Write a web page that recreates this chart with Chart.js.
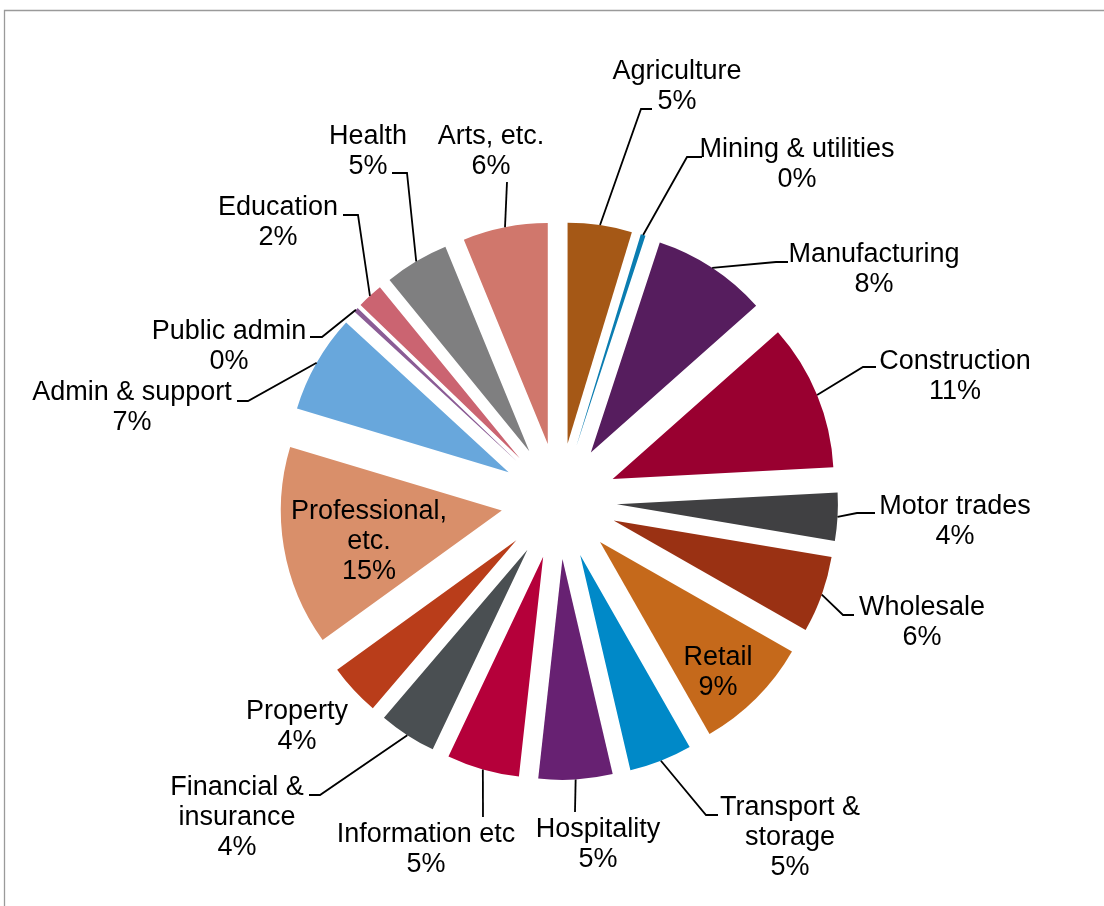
<!DOCTYPE html>
<html>
<head>
<meta charset="utf-8">
<script src="https://cdn.jsdelivr.net/npm/chart.js@4/dist/chart.umd.min.js"></script>
<style>
  html, body { margin: 0; padding: 0; background: #fff; overflow: hidden; }
  #wrap { position: relative; width: 1104px; height: 906px; }
</style>
</head>
<body>
<div id="wrap"><canvas id="sectors"></canvas></div>
<script>
// share of businesses by sector, %
const categories = [
  'Agriculture',
  'Mining & utilities',
  'Manufacturing',
  'Construction',
  'Motor trades',
  'Wholesale',
  'Retail',
  ['Transport &', 'storage'],
  'Hospitality',
  'Information etc',
  ['Financial &', 'insurance'],
  'Property',
  ['Professional,', 'etc.'],
  'Admin & support',
  'Public admin',
  'Education',
  'Health',
  'Arts, etc.',
];
const values = [
  4.7, 0.35, 8.4, 10.7, 3.5, 5.6, 8.5, 4.6, 5.4, 5.3, 4.2, 3.8, 14.6, 7.2,
  0.35, 1.9, 4.7, 6.2,
];
const colors = [
  '#A55816', '#0B7DB1', '#561D5E', '#990030', '#404042', '#9A3113',
  '#C5691B', '#0089C8', '#672172', '#B5003A', '#4A4F52', '#B93D1A',
  '#D98F6A', '#68A7DC', '#8B5C95', '#CB6471', '#7F7F80', '#D0776C',
];

// label placement: centre of first text line
const labelPos = [
  [677, 72], [797, 150], [874, 255], [955, 362], [955, 507], [922, 608],
  [718, 658], [790, 808], [598, 830], [426, 835], [237, 788], [297, 712],
  [369, 512], [132, 393], [229, 332], [278, 208], [368, 137], [491, 137],
];
// leader lines: elbow x, elbow y, end x (null = no leader)
const leaders = [
  [641, 109, 652], [687, 157, 702], [776, 262, 788], [863, 367, 876],
  [857, 513, 875], [843, 615, 854], null, [706, 815, 718],
  [575, 812, 575], [483, 817, 483], [320, 795, 309], null,
  null, [248, 401, 237], [322, 337, 310], [358, 215, 343],
  [407, 173, 392], [507, 182, 507],
];

const explode = 58;
const lineHeight = 30;

const explodedSlices = {
  id: 'explodedSlices',
  beforeDatasetDraw(chart, args) {
    const ctx = chart.ctx;
    args.meta.data.forEach((arc) => {
      const mid = (arc.startAngle + arc.endAngle) / 2;
      ctx.save();
      ctx.translate(Math.cos(mid) * explode, Math.sin(mid) * explode);
      arc.draw(ctx);
      ctx.restore();
    });
    return false;
  },
};

const frameAndLabels = {
  id: 'frameAndLabels',
  beforeDraw(chart) {
    const ctx = chart.ctx;
    ctx.save();
    ctx.strokeStyle = '#9a9a9a';
    ctx.lineWidth = 1.3;
    ctx.beginPath();
    ctx.moveTo(4.5, 906);
    ctx.lineTo(4.5, 10.5);
    ctx.lineTo(1104, 10.5);
    ctx.stroke();
    ctx.restore();
  },
  afterDraw(chart) {
    const ctx = chart.ctx;
    const meta = chart.getDatasetMeta(0);
    const total = values.reduce((a, b) => a + b, 0);
    ctx.save();
    ctx.font = '27px "Liberation Sans", Arial, sans-serif';
    ctx.textAlign = 'center';
    ctx.textBaseline = 'middle';
    ctx.fillStyle = '#000';
    ctx.strokeStyle = '#000';
    ctx.lineWidth = 1.8;
    meta.data.forEach((arc, i) => {
      const lines = [].concat(categories[i], Math.round((values[i] / total) * 100) + '%');
      const [lx, ly] = labelPos[i];
      lines.forEach((t, k) => ctx.fillText(t, lx, ly + k * lineHeight));

      const lead = leaders[i];
      if (!lead) return;
      const mid = (arc.startAngle + arc.endAngle) / 2;
      const dist = explode + arc.outerRadius;
      const sx = arc.x + Math.cos(mid) * dist;
      const sy = arc.y + Math.sin(mid) * dist;
      ctx.beginPath();
      ctx.moveTo(sx, sy);
      ctx.lineTo(lead[0], lead[1]);
      ctx.lineTo(lead[2], lead[1]);
      ctx.stroke();
    });
    ctx.restore();
  },
};

const ctx = document.getElementById('sectors').getContext('2d');
new Chart(ctx, {
  type: 'pie',
  data: {
    labels: categories,
    datasets: [
      {
        data: values,
        backgroundColor: colors,
        borderWidth: 0,
      },
    ],
  },
  options: {
    responsive: true,
    maintainAspectRatio: false,
    animation: false,
    radius: 221,
    layout: {
      padding: { left: 14, right: 0, top: 96, bottom: 0 },
    },
    plugins: {
      legend: { display: false },
      tooltip: { enabled: false },
    },
  },
  plugins: [explodedSlices, frameAndLabels],
});
</script>
</body>
</html>
